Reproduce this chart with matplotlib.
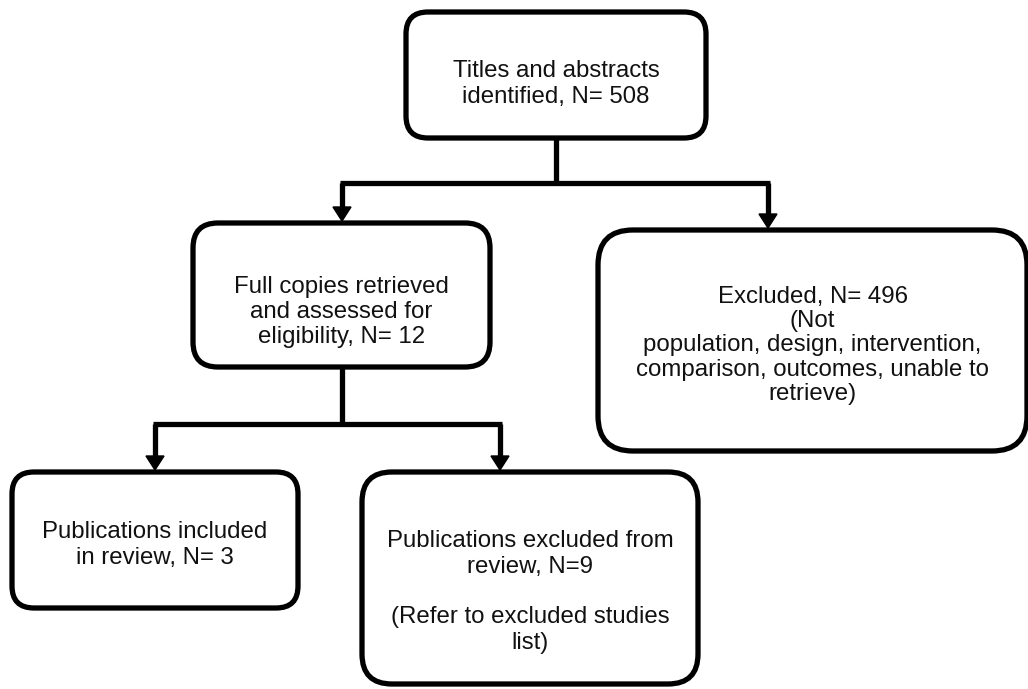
import matplotlib
matplotlib.use("Agg")
import matplotlib.pyplot as plt
from matplotlib.patches import FancyBboxPatch, Polygon

plt.rcParams["font.family"] = ["Liberation Sans", "DejaVu Sans"]

# box texts (the chart's content)
labels = [
    "Titles and abstracts\nidentified, N= 508",
    "Full copies retrieved\nand assessed for\neligibility, N= 12",
    "Excluded, N= 496\n(Not\npopulation, design, intervention,\ncomparison, outcomes, unable to\nretrieve)",
    "Publications included\nin review, N= 3",
    "Publications excluded from\nreview, N=9\n\n(Refer to excluded studies\nlist)",
]

# layout in pixels: x0, y0, x1, y1, corner radius
boxes = [
    (406, 12, 706, 138, 22),
    (193, 223, 490, 367, 25),
    (598, 230, 1027, 451, 35),
    (12, 472, 298, 608, 22),
    (362, 472, 698, 684, 30),
]
# text centre offsets relative to box centre (y, px)
text_dy = [9, 17, 5, 5, 14]
# line spacing per box
text_ls = [1.22, 1.2, 1.14, 1.18, 1.2]

# connectors: parent box, junction y, child boxes with arrow x
splits = [
    (0, 183, [(1, 342), (2, 768)]),
    (1, 424, [(3, 155), (4, 500)]),
]

W, H = 1028, 689
fig = plt.figure(figsize=(W / 100, H / 100), dpi=100)
ax = fig.add_axes([0, 0, 1, 1])
ax.set_xlim(0, W)
ax.set_ylim(H, 0)
ax.axis("off")

lw = 3.8
for (x0, y0, x1, y1, r), txt, dy, ls in zip(boxes, labels, text_dy, text_ls):
    ax.add_patch(FancyBboxPatch((x0, y0), x1 - x0, y1 - y0,
                                boxstyle=f"round,pad=0,rounding_size={r}",
                                fc="white", ec="black", lw=lw, zorder=2))
    ax.text((x0 + x1) / 2, (y0 + y1) / 2 + dy, txt, ha="center", va="center",
            fontsize=17.3, color="#111111", linespacing=ls, zorder=3)

head_len, head_half = 14, 9
for parent, yj, kids in splits:
    px0, py0, px1, py1, _ = boxes[parent]
    xc = (px0 + px1) / 2
    ax.plot([xc, xc], [py1, yj], color="black", lw=lw, solid_capstyle="butt", zorder=1)
    xs = [k[1] for k in kids]
    ax.plot([min(xs) - 2, max(xs) + 2], [yj, yj], color="black", lw=lw,
            solid_capstyle="butt", zorder=1)
    for child, xa in kids:
        top = boxes[child][1] - 2
        ax.plot([xa, xa], [yj, top - head_len + 1], color="black", lw=lw,
                solid_capstyle="butt", zorder=1)
        ax.add_patch(Polygon([(xa - head_half, top - head_len), (xa + head_half, top - head_len),
                              (xa, top)], closed=True, fc="black", ec="black", lw=1, zorder=4))

fig.savefig("out.png", dpi=100, facecolor="white")
